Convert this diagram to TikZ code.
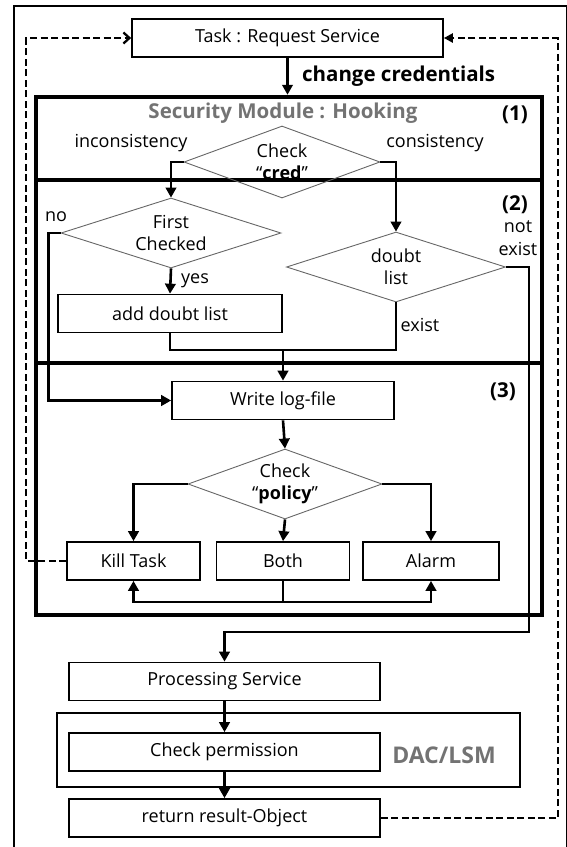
\documentclass[tikz,border=0pt]{standalone}
\usepackage{fontspec}
\setmainfont{Open Sans}
\usepackage{tikz}
\usetikzlibrary{shapes.geometric, arrows.meta}
\definecolor{titlegray}{gray}{0.45}

\begin{document}
\begin{tikzpicture}[x=1pt, y=-1pt,
    font=\fontsize{18}{22}\selectfont,
    box/.style={draw, line width=1.7pt, minimum height=38pt, inner sep=0pt},
    module/.style={draw, line width=4.5pt, inner sep=0pt},
    choice/.style={draw=black!60, line width=0.9pt, shape=diamond, aspect=2.8, inner sep=0pt, align=center, font=\fontsize{18}{22}\selectfont},
    bigbold/.style={font=\fontsize{20.5}{22}\selectfont\bfseries},
    conn/.style={line width=2.6pt, -{Triangle[length=10pt, width=10.5pt]}},
    wire/.style={line width=2.6pt},
    back/.style={line width=2.3pt, dash pattern=on 7pt off 3.5pt}]
      \useasboundingbox (0,0) rectangle (567,847);
      % Frame:
      \draw[line width=1.3pt] (14,6) rectangle (566.5,852);
      % Modules (1), (2), (3):
      \node[module, minimum width=506pt, minimum height=83pt] (m1) at (289,138.5) {};
      \node[module, minimum width=506pt, minimum height=183pt] (m2) at (289,271.5) {};
      \node[module, minimum width=506pt, minimum height=252pt] (m3) at (289,489) {};
      \node[draw, line width=1.7pt, minimum width=463pt, minimum height=74pt] (dac) at (288.5,750) {};
      \node[bigbold, text=titlegray] (hook) at (283,113) {Security Module : Hooking};
      \node[bigbold] (n1) at (515,115) {(1)};
      \node[bigbold] (n2) at (515,205) {(2)};
      \node[bigbold] (n3) at (503,392) {(3)};
      \node[font=\fontsize{23}{26}\selectfont\bfseries, text=titlegray] (lsm) at (444,755) {DAC/LSM};
      % Steps:
      \node[box, minimum width=311pt] (task) at (287.5,38) {Task : Request Service};
      \node[choice, minimum width=196pt, minimum height=72pt] (cred) at (282,162) {Check\\``\textbf{cred}''};
      \node[choice, minimum width=220pt, minimum height=70pt] (first) at (171,233) {First\\Checked};
      \node[choice, minimum width=219pt, minimum height=70pt] (doubt) at (396,267) {doubt\\list};
      \node[box, minimum width=224pt] (add) at (170,313.5) {add doubt list};
      \node[box, minimum width=222pt] (log) at (283,400.5) {Write log-file};
      \node[choice, minimum width=194pt, minimum height=70pt] (policy) at (285,484) {Check\\``\textbf{policy}''};
      \node[box, minimum width=133pt] (kill) at (133.5,561) {Kill Task};
      \node[box, minimum width=133pt] (both) at (283,561) {Both};
      \node[box, minimum width=136pt] (alarm) at (431,561) {Alarm};
      \node[box, minimum width=311pt] (proc) at (224.5,681.5) {Processing Service};
      \node[box, minimum width=311pt] (check) at (224.5,752) {Check permission};
      \node[box, minimum width=311pt] (ret) at (224.5,818) {return result-Object};
      \coordinate (merge) at (283,350);
      % Arrows:
      \draw[conn] (task) -- (task |- m1.north) node[midway, right=10pt, bigbold] {change credentials};
      \draw[conn] (cred.west) -| (first.north);
      \draw[conn] (cred.east) -| (doubt.north);
      \draw[conn] (first.south) -- (add.north) node[midway, right=6pt] {yes};
      \draw[conn] (first.west) -- ++(-12,0) |- (log.west);
      \draw[wire] (add.south) |- (merge) -| (doubt.south);
      \draw[conn] (merge) -- (log.north);
      \draw[conn] (doubt.east) -| (529,632) -| (proc.north);
      \draw[conn] (log.south) -- (policy.north);
      \draw[conn] (policy.west) -| (kill.north);
      \draw[conn] (policy.south) -- (both.north);
      \draw[conn] (policy.east) -| (alarm.north);
      \draw[conn] (both.south) -- ++(0,21) -| (kill.south);
      \draw[conn] (both.south) -- ++(0,21) -| (alarm.south);
      \draw[conn] (proc.south) -- (check.north);
      \draw[conn] (check.south) -- (ret.north);
      \draw[back, -{Straight Barb[length=6pt, width=11pt, line width=2.3pt]}] (kill.west) -- ++(-40,0) |- (task.west);
      \draw[back, -{Triangle[length=9pt, width=9pt]}] (ret.east) -- ++(177,0) |- (task.east);
      % Labels:
      \node (inc) at (131,143) {inconsistency};
      \node (con) at (435,143) {consistency};
      \node (no) at (56,217) {no};
      \node[align=center, font=\fontsize{18}{23}\selectfont] (notex) at (518,238) {not\\exist};
      \node (ex) at (420,325) {exist};
\end{tikzpicture}
\end{document}
